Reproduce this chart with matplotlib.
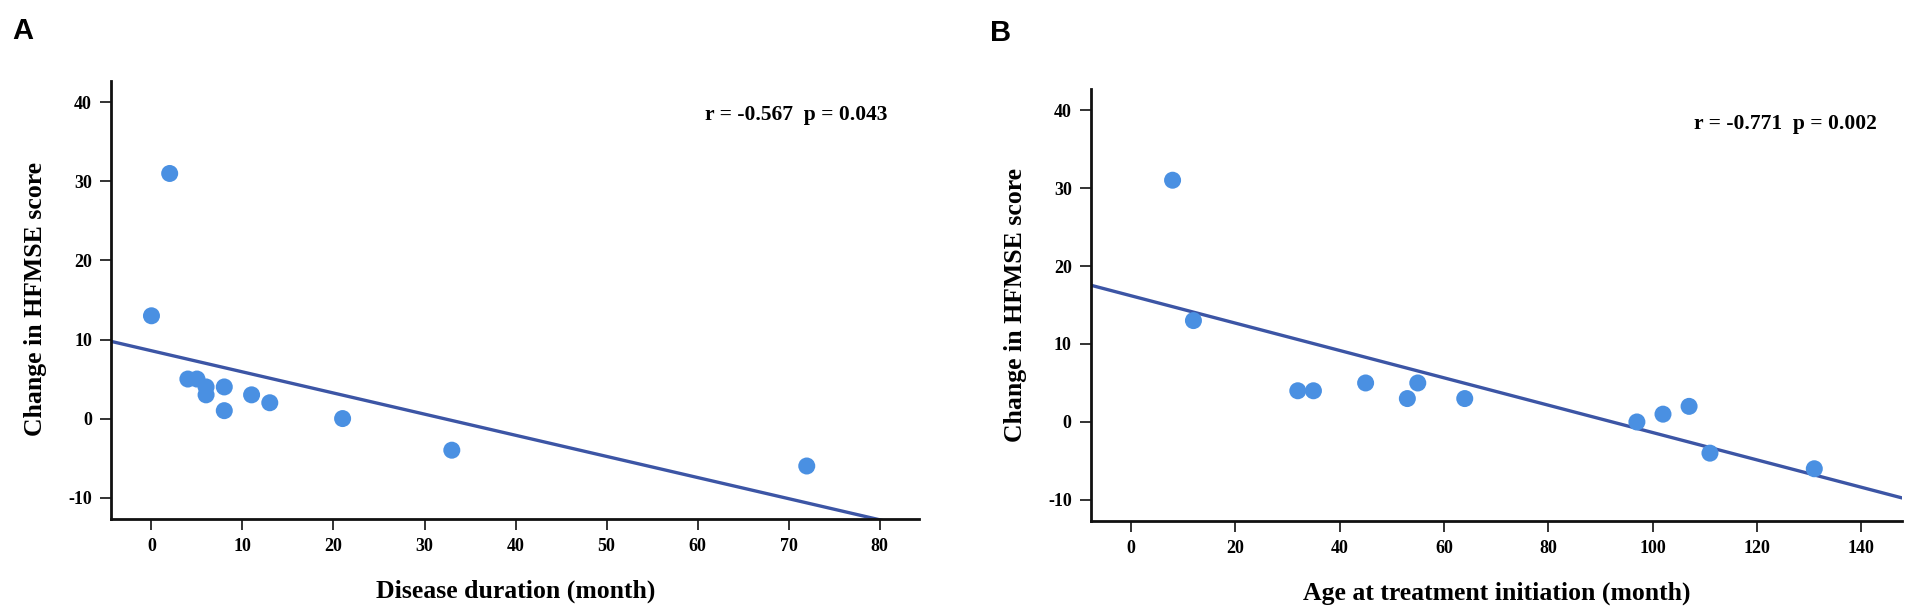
import numpy as np
import matplotlib
matplotlib.use("Agg")
import matplotlib.pyplot as plt

# =========================================================
# DATA
# =========================================================

duration_month = [0, 2, 4, 5, 6, 6, 8, 8, 11, 13, 21, 33, 72]
duration_change = [13, 31, 5, 5, 4, 3, 4, 1, 3, 2, 0, -4, -6]

age_month = [8, 12, 32, 35, 45, 53, 55, 64, 97, 102, 107, 111, 131]
age_change = [31, 13, 4, 4, 5, 3, 5, 3, 0, 1, 2, -4, -6]

stats_a = "r = -0.567  p = 0.043"
stats_b = "r = -0.771  p = 0.002"

# =========================================================
# STYLE
# =========================================================

plt.rcParams["axes.unicode_minus"] = False

SERIF = ["Liberation Serif", "DejaVu Serif"]
DOT = "#4a90e2"
LINE = "#3c55a5"

fig = plt.figure(figsize=(19.08, 6.12), dpi=100)

ax_a = fig.add_axes([0.0584, 0.152, 0.4231, 0.7157])
ax_b = fig.add_axes([0.5719, 0.1487, 0.4252, 0.7059])


def draw_panel(ax, x, y, xlim, xticks, xlabel, stats, stats_pos):
    x = np.array(x, dtype=float)
    y = np.array(y, dtype=float)

    ax.scatter(x, y, s=150, color=DOT, edgecolors="none", zorder=3)

    # linear fit over the whole visible range
    k, b = np.polyfit(x, y, 1)
    xx = np.array(xlim)
    ax.plot(xx, k * xx + b, color=LINE, linewidth=2.4, zorder=2)

    ax.set_xlim(*xlim)
    ax.set_ylim(-12.7, 42.7)
    ax.set_xticks(xticks)
    ax.set_yticks(np.arange(-10, 41, 10))

    for side in ["top", "right"]:
        ax.spines[side].set_visible(False)
    for side in ["left", "bottom"]:
        ax.spines[side].set_linewidth(2.0)
        ax.spines[side].set_color("#111111")

    ax.tick_params(direction="out", length=8, width=1.4, color="#333333",
                   pad=6)
    for lab in ax.get_xticklabels() + ax.get_yticklabels():
        lab.set_family(SERIF)
        lab.set_fontweight("bold")
        lab.set_fontsize(13)

    ax.set_xlabel(xlabel, family=SERIF, fontweight="bold", fontsize=18.5,
                  va="center", ha="center")
    ax.set_ylabel("Change in HFMSE score", family=SERIF, fontweight="bold",
                  fontsize=18.5, va="center", ha="center")

    ax.text(stats_pos[0], stats_pos[1], stats, transform=ax.transAxes,
            family=SERIF, fontweight="bold", fontsize=15.5,
            ha="left", va="center")


draw_panel(ax_a, duration_month, duration_change, (-4.4, 84.3),
           np.arange(0, 81, 10), "Disease duration (month)", stats_a,
           (0.735, 0.922))
ax_a.xaxis.set_label_coords(0.501, -0.164)
ax_a.yaxis.set_label_coords(-0.0935, 0.503)

draw_panel(ax_b, age_month, age_change, (-7.6, 147.9),
           np.arange(0, 141, 20), "Age at treatment initiation (month)",
           stats_b, (0.743, 0.919))
ax_b.xaxis.set_label_coords(0.5, -0.167)
ax_b.yaxis.set_label_coords(-0.0933, 0.501)

fig.text(22.8 / 1908, 1 - 31 / 612, "A", family=["Liberation Sans", "DejaVu Sans"],
         fontweight="bold", fontsize=21, ha="center", va="center")
fig.text(1001 / 1908, 1 - 33 / 612, "B", family=["Liberation Sans", "DejaVu Sans"],
         fontweight="bold", fontsize=21, ha="center", va="center")

fig.savefig("out.png", dpi=100)
plt.close(fig)
